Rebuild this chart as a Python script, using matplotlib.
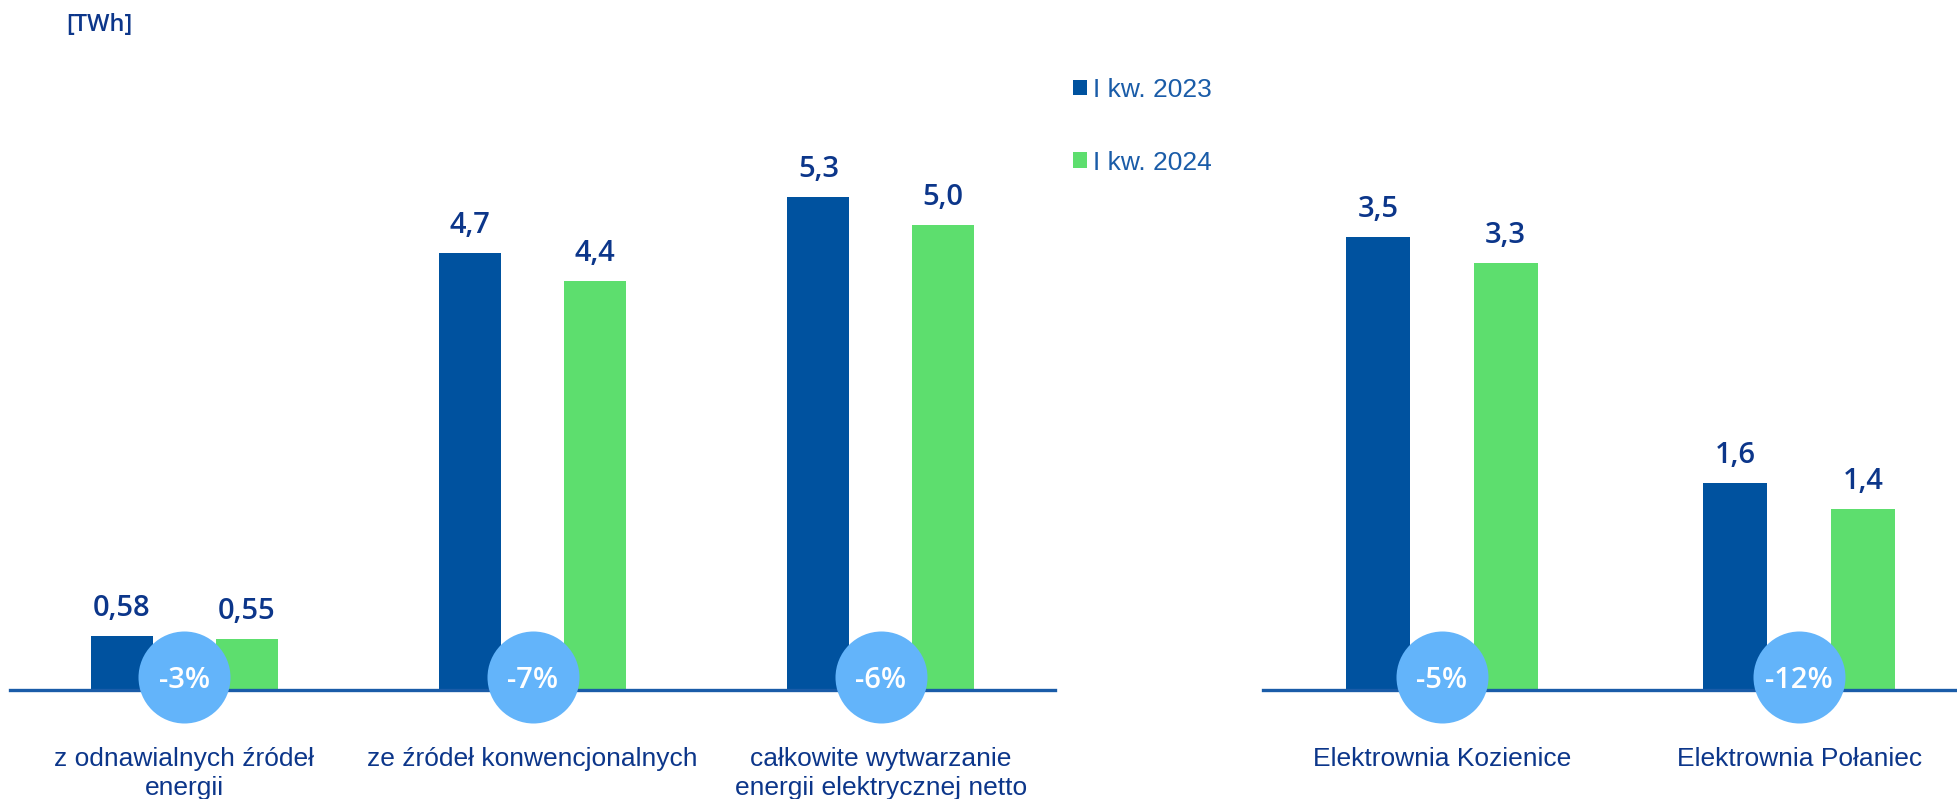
import matplotlib
matplotlib.use("Agg")
import matplotlib.pyplot as plt
import matplotlib.transforms as mtransforms
import numpy as np

# --- dane ---
kategorie_lewe = ["z odnawialnych źródeł\nenergii", "ze źródeł konwencjonalnych",
                  "całkowite wytwarzanie\nenergii elektrycznej netto"]
q1_2023_lewe = [0.58, 4.7, 5.3]
q1_2024_lewe = [0.55, 4.4, 5.0]
etykiety_2023_lewe = ["0,58", "4,7", "5,3"]
etykiety_2024_lewe = ["0,55", "4,4", "5,0"]
zmiany_lewe = ["-3%", "-7%", "-6%"]

kategorie_prawe = ["Elektrownia Kozienice", "Elektrownia Połaniec"]
q1_2023_prawe = [3.5, 1.6]
q1_2024_prawe = [3.3, 1.4]
etykiety_2023_prawe = ["3,5", "1,6"]
etykiety_2024_prawe = ["3,3", "1,4"]
zmiany_prawe = ["-5%", "-12%"]

serie = ["I kw. 2023", "I kw. 2024"]

# --- kolory ---
NIEBIESKI = "#00529F"
ZIELONY = "#5DDE6E"
JASNY = "#63B4FA"
GRANAT = "#0C368A"
LINIA = "#1A5CA8"

W, H = 1957, 799
fig = plt.figure(figsize=(W / 100, H / 100), dpi=100)

dol = 1 - 690 / H
ax1 = fig.add_axes([10 / W, dol, 1045 / W, 1 - dol])
ax2 = fig.add_axes([1263 / W, dol, 715 / W, 1 - dol])

szer = 0.178
przes = 0.179


def rysuj(ax, kat, v23, v24, e23, e24, zm, ymax):
    x = np.arange(len(kat))
    b1 = ax.bar(x - przes, v23, szer, color=NIEBIESKI, label=serie[0])
    b2 = ax.bar(x + przes, v24, szer, color=ZIELONY, label=serie[1])
    ax.set_xlim(-0.5, len(kat) - 0.5)
    ax.set_ylim(0, ymax)
    for s in ["top", "left", "right"]:
        ax.spines[s].set_visible(False)
    ax.spines["bottom"].set_color(LINIA)
    ax.spines["bottom"].set_linewidth(2.4)
    ax.set_xticks([])
    ax.set_yticks([])
    ax.patch.set_alpha(0)

    nad = mtransforms.offset_copy(ax.transData, fig=fig, y=20, units="dots")
    for xi, v, t in zip(x - przes, v23, e23):
        ax.text(xi, v, t, transform=nad, ha="center", va="baseline",
                fontsize=21, fontweight="semibold", family="Open Sans", color=GRANAT)
    for xi, v, t in zip(x + przes, v24, e24):
        ax.text(xi, v, t, transform=nad, ha="center", va="baseline",
                fontsize=21, fontweight="semibold", family="Open Sans", color=GRANAT)

    # kółka ze zmianą procentową
    kolo = mtransforms.offset_copy(ax.transData, fig=fig, y=13, units="dots")
    ax.scatter(x, np.zeros(len(x)), s=(92 * 0.72) ** 2, color=JASNY,
               transform=kolo, clip_on=False, zorder=5, linewidths=0)
    for xi, t in zip(x, zm):
        ax.text(xi, 0, t, transform=kolo, ha="center", va="center_baseline",
                fontsize=21, fontweight="semibold", family="Open Sans",
                color="white", zorder=6)

    pod = mtransforms.offset_copy(ax.transData, fig=fig, y=-57, units="dots")
    for xi, t in zip(x, kat):
        ax.text(xi, 0, t, transform=pod, ha="center", va="top", fontsize=19,
                family="Liberation Sans", color=GRANAT, linespacing=1.28)
    return b1, b2


b1, b2 = rysuj(ax1, kategorie_lewe, q1_2023_lewe, q1_2024_lewe,
               etykiety_2023_lewe, etykiety_2024_lewe, zmiany_lewe, 7.42)
rysuj(ax2, kategorie_prawe, q1_2023_prawe, q1_2024_prawe,
      etykiety_2023_prawe, etykiety_2024_prawe, zmiany_prawe, 5.33)

fig.text(66 / W, 1 - 25 / H, "[TWh]", ha="left", va="center", fontsize=17,
         family="Open Sans", fontweight="semibold", color=GRANAT)

fig.legend(handles=[b1, b2], loc="upper left", bbox_to_anchor=(1073 / W, 1 - 78 / H),
           frameon=False, borderpad=0, borderaxespad=0, handlelength=0.53,
           handleheight=0.53, handletextpad=0.22, labelspacing=1.84,
           prop={"family": "Liberation Sans", "size": 19}, labelcolor=LINIA)

fig.savefig("out.png", dpi=100)
